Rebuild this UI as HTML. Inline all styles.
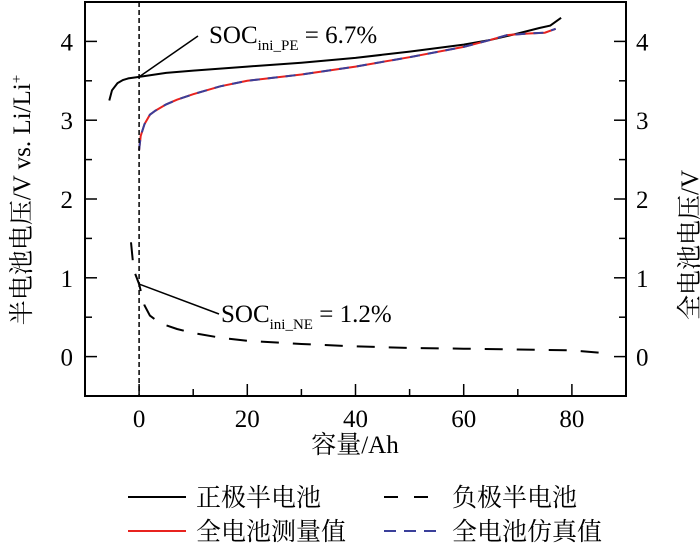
<!DOCTYPE html>
<html><head><meta charset="utf-8"><style>
body{margin:0;background:#fff}
svg text{font-family:"Liberation Serif","Noto Serif CJK SC",serif;fill:#000}
</style></head><body>
<svg id="chart" width="700" height="545" viewBox="0 0 700 545" xmlns="http://www.w3.org/2000/svg">
<g id="plot"></g>
</svg>
<script>
const peX=[-5.5,-5,-4,-3,-2,-1,0,5,10,20,30,40,50,60,65,70,74,76,78];
const peY=[3.25,3.38,3.47,3.51,3.53,3.54,3.55,3.6,3.63,3.68,3.73,3.79,3.87,3.96,4.02,4.1,4.17,4.2,4.3];
const fcX=[0,0.3,1,2,3,5,7,10,15,20,30,40,50,60,65,68,72,75,77];
const fcY=[2.62,2.8,2.95,3.07,3.12,3.2,3.26,3.33,3.43,3.5,3.58,3.68,3.8,3.93,4.02,4.08,4.1,4.11,4.16];
const neX=[-1.5,-1,0,0.5,1,2,4,7,10,15,20,30,40,50,60,70,80,85];
const neY=[1.45,1.1,0.92,0.78,0.65,0.52,0.42,0.35,0.3,0.24,0.2,0.16,0.13,0.11,0.1,0.09,0.08,0.05];
const xTicks=[0,20,40,60,80];
const yTicks=[0,1,2,3,4];
const NS="http://www.w3.org/2000/svg";
const X0=85,X1=626,Y0=396,Y1=2,xmin=-10,xmax=90,ymin=-0.5,ymax=4.5;
const sx=v=>X0+(v-xmin)/(xmax-xmin)*(X1-X0);
const sy=v=>Y0-(v-ymin)/(ymax-ymin)*(Y0-Y1);
const g=document.getElementById('plot');
function mk(t,a){const e=document.createElementNS(NS,t);for(const k in a)e.setAttribute(k,a[k]);g.appendChild(e);return e;}
function path(xs,ys){return xs.map((x,i)=>(i?'L':'M')+sx(x).toFixed(1)+','+sy(ys[i]).toFixed(1)).join('');}
let e;
e=mk('path',{d:path(peX,peY),fill:'none',stroke:'#000','stroke-width':2});


e=mk('path',{d:path(fcX,fcY),fill:'none',stroke:'#e8231f','stroke-width':2});


e=mk('path',{d:path(fcX,fcY),fill:'none',stroke:'#3a3f9a','stroke-width':2,'stroke-dasharray':'10,8'});


e=mk('path',{d:path(neX,neY),fill:'none',stroke:'#000','stroke-width':2,'stroke-dasharray':'18,14'});


e=mk('line',{x1:sx(0),x2:sx(0),y1:Y1,y2:Y0,stroke:'#000','stroke-width':1.5,'stroke-dasharray':'5,3'});


e=mk('rect',{x:X0,y:Y1,width:X1-X0,height:Y0-Y1,fill:'none',stroke:'#000','stroke-width':2});


for(let v=-10;v<=90;v+=10){const maj=v%20===0;
 e=mk('line',{x1:sx(v),x2:sx(v),y1:Y0,y2:Y0-(maj?12:7),stroke:'#000','stroke-width':1.5});
 
 }
xTicks.forEach(v=>{e=mk('text',{x:sx(v),y:Y0+31,'text-anchor':'middle','font-size':25});e.textContent=v;
 
 });
for(let v=0;v<=4;v+=0.5){const maj=v%1===0;
 [[X0,1],[X1,-1]].forEach(([x,d])=>{e=mk('line',{x1:x,x2:x+d*(maj?12:7),y1:sy(v),y2:sy(v),stroke:'#000','stroke-width':1.5});
 
 });}
yTicks.forEach(v=>{
 e=mk('text',{x:X0-12,y:sy(v)+9,'text-anchor':'end','font-size':25});e.textContent=v;
 
 
 e=mk('text',{x:X1+10,y:sy(v)+9,'text-anchor':'start','font-size':25});e.textContent=v;
 
 });
e=mk('line',{x1:sx(0),y1:sy(3.55),x2:198,y2:36,stroke:'#000','stroke-width':1.5});


e=mk('line',{x1:sx(0),y1:sy(0.92),x2:219,y2:314,stroke:'#000','stroke-width':1.5});


</script>
<svg style="position:absolute;left:0;top:0" width="700" height="545">
<text x="209" y="43" font-size="25">SOC<tspan font-size="15" dy="7">ini_PE</tspan><tspan dy="-7"> = 6.7%</tspan></text>
<text x="221" y="322" font-size="25">SOC<tspan font-size="15" dy="7">ini_NE</tspan><tspan dy="-7"> = 1.2%</tspan></text>
<text x="355" y="453" text-anchor="middle" font-size="25">容量/Ah</text>
<text transform="translate(30,200) rotate(-90)" text-anchor="middle" font-size="25">半电池电压/V vs. Li/Li<tspan font-size="15" dy="-9">+</tspan></text>
<text transform="translate(698,245) rotate(-90)" text-anchor="middle" font-size="25">全电池电压/V</text>
<g>
<line x1="128" x2="186" y1="497" y2="497" stroke="#000" stroke-width="2"/>
<text x="196" y="506" font-size="25">正极半电池</text>
<line x1="384" x2="442" y1="497" y2="497" stroke="#000" stroke-width="2" stroke-dasharray="14,16"/>
<text x="452" y="506" font-size="25">负极半电池</text>
<line x1="128" x2="186" y1="531" y2="531" stroke="#e8231f" stroke-width="2"/>
<text x="196" y="540" font-size="25">全电池测量值</text>
<line x1="384" x2="442" y1="531" y2="531" stroke="#3a3f9a" stroke-width="2" stroke-dasharray="12,8"/>
<text x="452" y="540" font-size="25">全电池仿真值</text>
</g>
</svg>
</body></html>
